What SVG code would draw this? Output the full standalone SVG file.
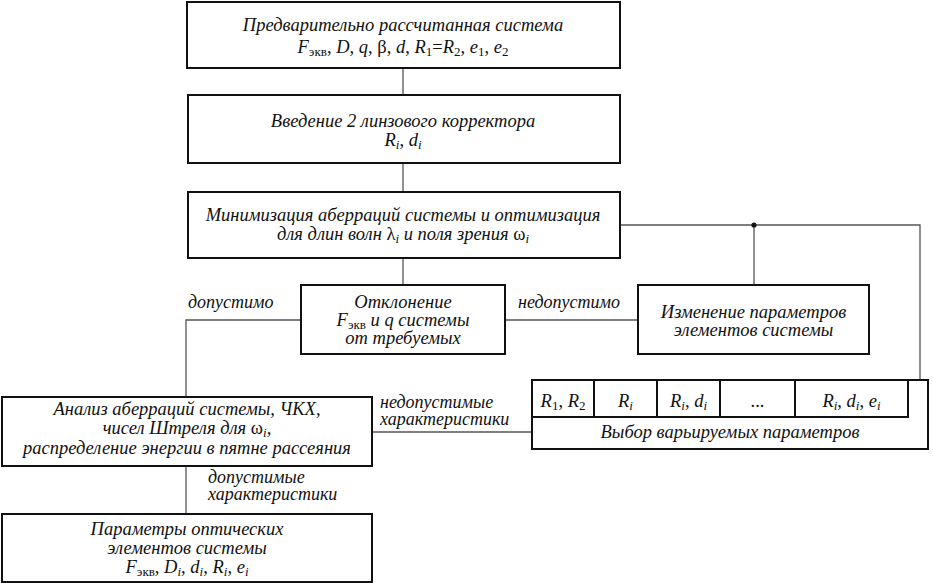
<svg xmlns="http://www.w3.org/2000/svg" width="933" height="583" viewBox="0 0 933 583">
<style>
text{font-family:"Liberation Serif","DejaVu Serif",serif;font-size:18.5px;font-style:italic;fill:#111;}
.c{text-anchor:middle;}
.u{font-style:normal;}
.s{font-style:normal;font-size:13px;}
.si{font-style:italic;font-size:13px;}
.lb{font-size:18px;}
.box{fill:#fff;stroke:#111;stroke-width:2;}
.ln{fill:none;stroke:#555;stroke-width:1.3;}
.cell{fill:none;stroke:#111;stroke-width:2;}
</style>
<rect width="933" height="583" fill="#fff"/>
<g id="connectors">
<path class="ln" d="M403,68V95"/>
<path class="ln" d="M403,163V192"/>
<path class="ln" d="M403,258V285"/>
<path class="ln" d="M620,225H920V380"/>
<path class="ln" d="M754,225V285"/>
<circle cx="754" cy="225" r="2.6" fill="#111"/>
<path class="ln" d="M301,320H186V397"/>
<path class="ln" d="M505,320H638"/>
<path class="ln" d="M372,432H532"/>
<path class="ln" d="M186,466V514"/>
<text class="lb" x="188" y="308">допустимо</text>
<text class="lb" x="518" y="308">недопустимо</text>
<text class="lb" x="380" y="408">недопустимые</text>
<text class="lb" x="380" y="425">характеристики</text>
<text class="lb" x="208" y="483">допустимые</text>
<text class="lb" x="208" y="500">характеристики</text>
</g>
<g id="n1">
<rect class="box" x="187" y="2" width="433" height="66"/>
<text class="c" x="403" y="31">Предварительно рассчитанная система</text>
<text class="c" x="403" y="53">F<tspan class="s" dy="3">экв</tspan><tspan class="u" dy="-3">, </tspan>D<tspan class="u">, </tspan>q<tspan class="u">, β, </tspan>d<tspan class="u">, </tspan>R<tspan class="s" dy="3">1</tspan><tspan class="u" dy="-3">=</tspan>R<tspan class="s" dy="3">2</tspan><tspan class="u" dy="-3">, </tspan>e<tspan class="s" dy="3">1</tspan><tspan class="u" dy="-3">, </tspan>e<tspan class="s" dy="3">2</tspan></text>
</g>
<g id="n2">
<rect class="box" x="188" y="95" width="432" height="68"/>
<text class="c" x="403" y="127">Введение 2 линзового корректора</text>
<text class="c" x="403" y="146">R<tspan class="si" dy="3">i</tspan><tspan class="u" dy="-3">, </tspan>d<tspan class="si" dy="3">i</tspan></text>
</g>
<g id="n3">
<rect class="box" x="188" y="192" width="432" height="66"/>
<text class="c" x="403" y="221">Минимизация аберраций системы и оптимизация</text>
<text class="c" x="403" y="240">для длин волн <tspan class="u">λ</tspan><tspan class="si" dy="3">i</tspan><tspan dy="-3"> и поля зрения </tspan><tspan class="u">ω</tspan><tspan class="si" dy="3">i</tspan></text>
</g>
<g id="n4">
<rect class="box" x="301" y="285" width="204" height="69"/>
<text class="c" x="403" y="308">Отклонение</text>
<text class="c" x="403" y="326">F<tspan class="s" dy="3">экв</tspan><tspan dy="-3"> и q системы</tspan></text>
<text class="c" x="403" y="344">от требуемых</text>
</g>
<g id="n5">
<rect class="box" x="638" y="285" width="231" height="69"/>
<text class="c" x="753.5" y="318">Изменение параметров</text>
<text class="c" x="753.5" y="336">элементов системы</text>
</g>
<g id="n6">
<rect class="box" x="532" y="380" width="396" height="69"/>
<path class="cell" d="M532,417H908V380M594,380V417M657,380V417M720,380V417M795,380V417"/>
<text class="c" x="563" y="407">R<tspan class="s" dy="3">1</tspan><tspan class="u" dy="-3">, </tspan>R<tspan class="s" dy="3">2</tspan></text>
<text class="c" x="625.5" y="407">R<tspan class="si" dy="3">i</tspan></text>
<text class="c" x="688.5" y="407">R<tspan class="si" dy="3">i</tspan><tspan class="u" dy="-3">, </tspan>d<tspan class="si" dy="3">i</tspan></text>
<text class="c u" x="757.5" y="407">...</text>
<text class="c" x="851.5" y="407">R<tspan class="si" dy="3">i</tspan><tspan class="u" dy="-3">, </tspan>d<tspan class="si" dy="3">i</tspan><tspan class="u" dy="-3">, </tspan>e<tspan class="si" dy="3">i</tspan></text>
<text class="c" x="730" y="438">Выбор варьируемых параметров</text>
</g>
<g id="n7">
<rect class="box" x="2" y="397" width="370" height="69"/>
<text class="c" x="187" y="415">Анализ аберраций системы, ЧКХ,</text>
<text class="c" x="187" y="434">чисел Штреля для <tspan class="u">ω</tspan><tspan class="si" dy="3">i</tspan><tspan dy="-3">,</tspan></text>
<text class="c" x="187" y="454">распределение энергии в пятне рассеяния</text>
</g>
<g id="n8">
<rect class="box" x="2" y="514" width="370" height="68"/>
<text class="c" x="187" y="535">Параметры оптических</text>
<text class="c" x="187" y="554">элементов системы</text>
<text class="c" x="187" y="573">F<tspan class="s" dy="3">экв</tspan><tspan class="u" dy="-3">, </tspan>D<tspan class="si" dy="3">i</tspan><tspan class="u" dy="-3">, </tspan>d<tspan class="si" dy="3">i</tspan><tspan class="u" dy="-3">, </tspan>R<tspan class="si" dy="3">i</tspan><tspan class="u" dy="-3">, </tspan>e<tspan class="si" dy="3">i</tspan></text>
</g>
</svg>
